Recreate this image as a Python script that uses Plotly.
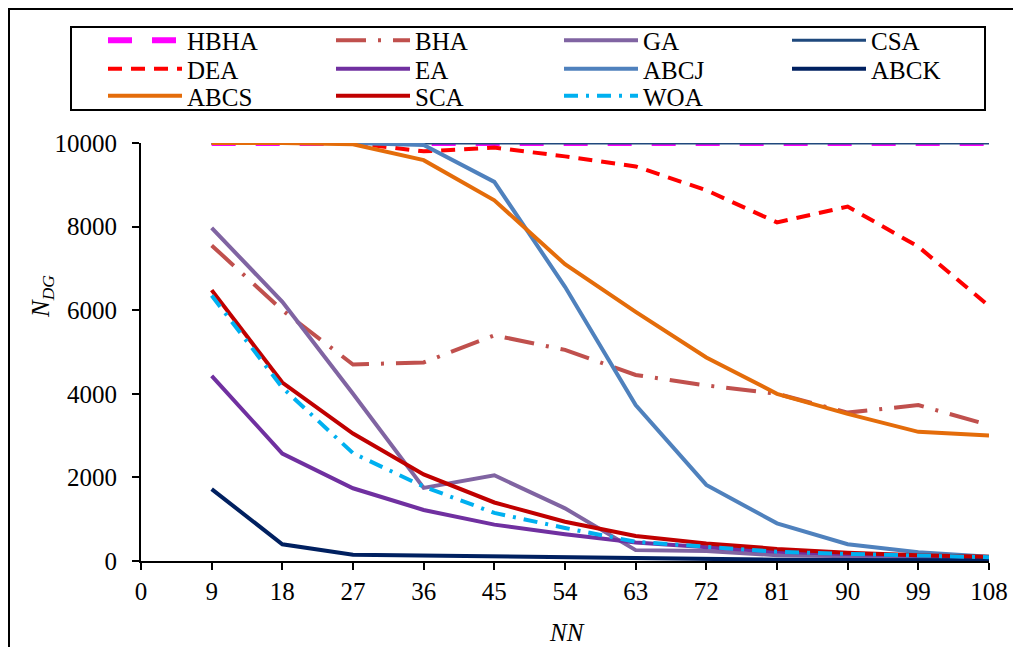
import plotly.graph_objects as go

nn = [9, 18, 27, 36, 45, 54, 63, 72, 81, 90, 99, 108]
HBHA = [10000, 10000, 10000, 10000, 10000, 10000, 10000, 10000, 10000, 10000, 10000, 10000]
BHA = [7550, 6000, 4700, 4750, 5400, 5050, 4450, 4200, 4000, 3550, 3730, 3250]
GA = [7970, 6200, 4000, 1750, 2050, 1260, 260, 240, 140, 110, 90, 70]
CSA = [10000, 10000, 10000, 10000, 10000, 10000, 10000, 10000, 10000, 10000, 10000, 10000]
DEA = [10000, 10000, 10000, 9800, 9890, 9680, 9440, 8870, 8100, 8480, 7520, 6100]
EA = [4430, 2570, 1740, 1220, 870, 640, 440, 340, 220, 170, 120, 90]
ABCJ = [10000, 10000, 10000, 9950, 9070, 6560, 3730, 1820, 900, 400, 210, 100]
ABCK = [1720, 400, 150, 130, 100, 70, 50, 40, 30, 25, 20, 15]
ABCS = [10000, 10000, 9970, 9590, 8630, 7100, 5960, 4870, 4000, 3520, 3090, 3000]
SCA = [6480, 4270, 3050, 2070, 1400, 940, 600, 420, 290, 200, 140, 100]
WOA = [6350, 4150, 2580, 1780, 1150, 790, 460, 340, 220, 170, 120, 90]

x_ticks = [0, 9, 18, 27, 36, 45, 54, 63, 72, 81, 90, 99, 108]
y_ticks = [0, 2000, 4000, 6000, 8000, 10000]

# name, values, colour, width, dash, legend row
series = [
    ("HBHA", HBHA, "#FF00FF", 6, "24px,20px", "legend"),
    ("BHA", BHA, "#C0504D", 4, "30px,12px,3px,12px", "legend"),
    ("GA", GA, "#8064A2", 4, "solid", "legend"),
    ("CSA", CSA, "#1F497D", 3, "solid", "legend"),
    ("DEA", DEA, "#FF0000", 4, "14px,9px", "legend2"),
    ("EA", EA, "#7030A0", 4, "solid", "legend2"),
    ("ABCJ", ABCJ, "#4F81BD", 4, "solid", "legend2"),
    ("ABCK", ABCK, "#002060", 4, "solid", "legend2"),
    ("ABCS", ABCS, "#E46C0A", 4, "solid", "legend3"),
    ("SCA", SCA, "#C00000", 4, "solid", "legend3"),
    ("WOA", WOA, "#00B0F0", 4, "14px,8px,3px,8px", "legend3"),
]

FONT = "Liberation Serif, Times New Roman, serif"

fig = go.Figure()
for name, vals, color, w, dash, leg in series:
    fig.add_trace(go.Scatter(
        x=nn, y=vals, name=name, mode="lines", legend=leg,
        line=dict(color=color, width=w, dash=dash),
    ))

W, H = 1013, 639
L, R, T, B = 133, 32, 135, 86
pw, ph = W - L - R, H - T - B

def px(xp):
    return (xp - L) / pw

def py(yp):
    return (H - B - yp) / ph

def legend_row(yc):
    return dict(
        orientation="h",
        x=px(95), y=py(yc), xanchor="left", yanchor="middle",
        entrywidth=139, entrywidthmode="pixels",
        itemwidth=74,
        borderwidth=0,
        bgcolor="rgba(0,0,0,0)",
        font=dict(family=FONT, size=25, color="black"),
        traceorder="normal",
    )

fig.update_layout(
    width=W, height=H,
    margin=dict(l=L, r=R, t=T, b=B, autoexpand=False),
    paper_bgcolor="white", plot_bgcolor="white",
    font=dict(family=FONT, size=25, color="black"),
    showlegend=True,
    legend=legend_row(32.5),
    legend2=legend_row(61),
    legend3=legend_row(88),
    xaxis=dict(
        range=[0, 108], tickmode="array", tickvals=x_ticks,
        ticktext=[str(v) for v in x_ticks],
        showgrid=False, zeroline=False,
        showline=True, linecolor="black", linewidth=2,
        ticks="outside", ticklen=7, tickwidth=2, tickcolor="black",
        tickfont=dict(family=FONT, size=25, color="black"),
        ticklabelstandoff=0,
    ),
    yaxis=dict(
        range=[0, 10000], tickmode="array", tickvals=y_ticks,
        ticktext=[str(v) for v in y_ticks],
        showgrid=False, zeroline=False,
        showline=True, linecolor="black", linewidth=2,
        ticks="outside", ticklen=7, tickwidth=2, tickcolor="black",
        tickfont=dict(family=FONT, size=25, color="black"),
        ticklabelstandoff=10,
    ),
    shapes=[
        dict(type="rect", xref="paper", yref="paper",
             x0=px(1), x1=px(1100), y0=py(700), y1=py(1),
             line=dict(color="black", width=2), fillcolor="rgba(0,0,0,0)",
             layer="below"),
        dict(type="rect", xref="paper", yref="paper",
             x0=px(63), x1=px(977), y0=py(102), y1=py(19),
             line=dict(color="black", width=2), fillcolor="rgba(0,0,0,0)",
             layer="above"),
    ],
    annotations=[
        dict(text="<i>N<sub>DG</sub></i>", xref="paper", yref="paper",
             x=px(34), y=py(289), textangle=-90, showarrow=False,
             xanchor="center", yanchor="middle",
             font=dict(family=FONT, size=25, color="black")),
        dict(text="<i>NN</i>", xref="paper", yref="paper",
             x=px(559), y=py(624), showarrow=False,
             xanchor="center", yanchor="middle",
             font=dict(family=FONT, size=25, color="black")),
    ],
)

fig.write_html("out.html")
